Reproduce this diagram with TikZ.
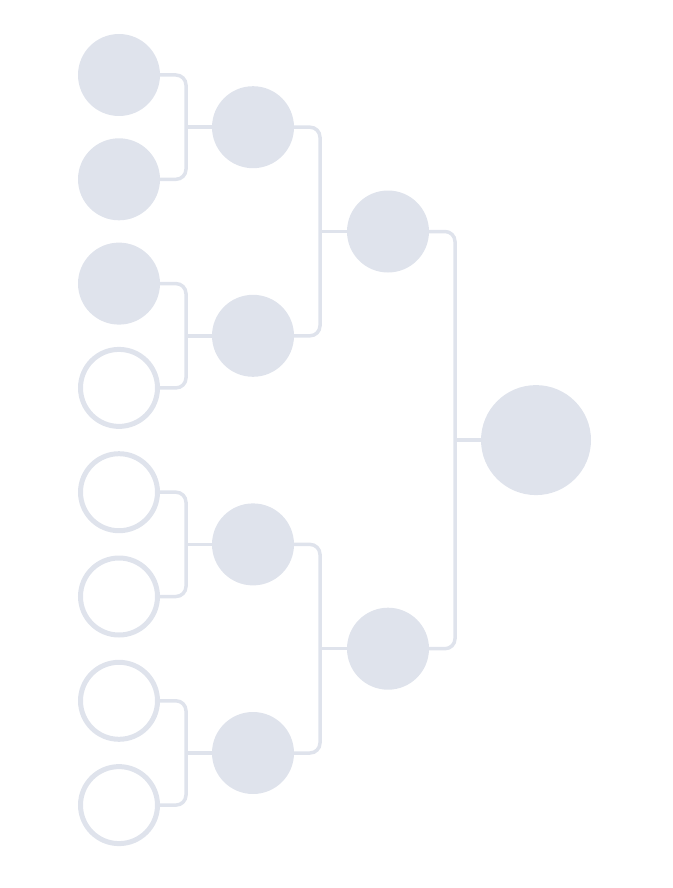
\documentclass[tikz,border=0pt]{standalone}
\usepackage{tikz}
\definecolor{slot}{HTML}{DFE3EC}

\begin{document}
\begin{tikzpicture}[
  x=1pt, y=-1pt,
  team/.style={circle, fill=slot, inner sep=0pt, outer sep=0pt, minimum size=82pt},
  empty/.style={circle, draw=slot, line width=5pt, inner sep=0pt, outer sep=0pt, minimum size=77pt},
  winner/.style={team, minimum size=110pt},
  link/.style={draw=slot, line width=3.5pt, rounded corners=10pt}
]
  \useasboundingbox (0,0) rectangle (672,888);
  % first round
  \node[team]  (t1) at (119,75) {};
  \node[team]  (t2) at (119,179.3) {};
  \node[team]  (t3) at (119,283.6) {};
  \node[empty] (t4) at (119,387.9) {};
  \node[empty] (t5) at (119,492.2) {};
  \node[empty] (t6) at (119,596.5) {};
  \node[empty] (t7) at (119,700.8) {};
  \node[empty] (t8) at (119,805.1) {};
  % second round
  \node[team] (q1) at (253,127.2) {};
  \node[team] (q2) at (253,335.8) {};
  \node[team] (q3) at (253,544.4) {};
  \node[team] (q4) at (253,753) {};
  % semi finals
  \node[team] (s1) at (388,231.5) {};
  \node[team] (s2) at (388,648.7) {};
  % final
  \node[winner] (f) at (536,440.1) {};
  % junctions
  \coordinate (j1) at (186,127.2);
  \coordinate (j2) at (186,335.8);
  \coordinate (j3) at (186,544.4);
  \coordinate (j4) at (186,753);
  \coordinate (k1) at (320,231.5);
  \coordinate (k2) at (320,648.7);
  \coordinate (m1) at (455,440.1);
  \draw[link] (t1.east) -- (t1.east -| j1) |- (t2.east);
  \draw[link] (t3.east) -- (t3.east -| j2) |- (t4.east);
  \draw[link] (t5.east) -- (t5.east -| j3) |- (t6.east);
  \draw[link] (t7.east) -- (t7.east -| j4) |- (t8.east);
  \draw[link] (j1) -- (q1.west);
  \draw[link] (j2) -- (q2.west);
  \draw[link] (j3) -- (q3.west);
  \draw[link] (j4) -- (q4.west);
  \draw[link] (q1.east) -- (q1.east -| k1) |- (q2.east);
  \draw[link] (q3.east) -- (q3.east -| k2) |- (q4.east);
  \draw[link] (k1) -- (s1.west);
  \draw[link] (k2) -- (s2.west);
  \draw[link] (s1.east) -- (s1.east -| m1) |- (s2.east);
  \draw[link] (m1) -- (f.west);
\end{tikzpicture}
\end{document}
